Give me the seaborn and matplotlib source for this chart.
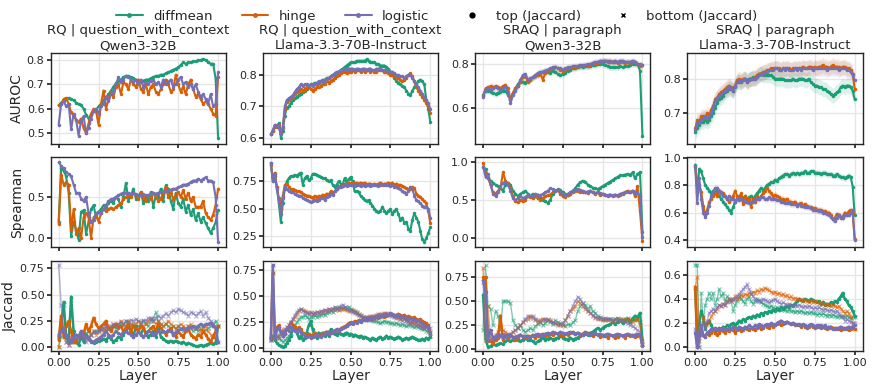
import numpy as np
import matplotlib
matplotlib.use("Agg")
import matplotlib.pyplot as plt
from matplotlib.lines import Line2D
import seaborn as sns

sns.set_theme(style="whitegrid", rc={
    "axes.edgecolor": "0.1", "axes.linewidth": 1.0,
    "grid.color": "0.9", "xtick.bottom": True, "ytick.left": True,
    "xtick.major.size": 3, "ytick.major.size": 3,
})
plt.rcParams["font.family"] = ["DejaVu Sans"]

methods = ["diffmean", "hinge", "logistic"]
colors = {"diffmean": "#1b9e77", "hinge": "#d95f02", "logistic": "#7570b3"}

col_titles = ["RQ | question_with_context\nQwen3-32B",
              "RQ | question_with_context\nLlama-3.3-70B-Instruct",
              "SRAQ | paragraph\nQwen3-32B",
              "SRAQ | paragraph\nLlama-3.3-70B-Instruct"]
row_labels = ["AUROC", "Spearman", "Jaccard"]

# ---------------- AUROC ----------------
rq_qwen_auroc_diffmean = [0.615, 0.625, 0.635, 0.64, 0.645, 0.64, 0.635, 0.625, 0.62, 0.615, 0.60, 0.575, 0.56, 0.575, 0.59, 0.595, 0.61, 0.62, 0.635, 0.645, 0.66, 0.675, 0.69, 0.705, 0.715, 0.72, 0.73, 0.735, 0.735, 0.73, 0.725, 0.72, 0.715, 0.71, 0.715, 0.72, 0.72, 0.725, 0.73, 0.735, 0.735, 0.74, 0.74, 0.745, 0.75, 0.755, 0.76, 0.765, 0.77, 0.78, 0.79, 0.785, 0.79, 0.79, 0.795, 0.795, 0.80, 0.80, 0.805, 0.80, 0.79, 0.785, 0.785, 0.725, 0.48]
rq_qwen_auroc_hinge = [0.615, 0.62, 0.64, 0.645, 0.62, 0.585, 0.57, 0.555, 0.545, 0.56, 0.52, 0.50, 0.54, 0.58, 0.60, 0.59, 0.535, 0.62, 0.675, 0.60, 0.64, 0.67, 0.65, 0.69, 0.70, 0.66, 0.71, 0.70, 0.68, 0.72, 0.70, 0.69, 0.72, 0.68, 0.67, 0.70, 0.66, 0.69, 0.70, 0.67, 0.66, 0.68, 0.70, 0.72, 0.70, 0.67, 0.68, 0.74, 0.70, 0.67, 0.69, 0.66, 0.70, 0.72, 0.68, 0.65, 0.66, 0.64, 0.62, 0.63, 0.62, 0.60, 0.58, 0.57, 0.73]
rq_qwen_auroc_logistic = [0.535, 0.62, 0.63, 0.61, 0.62, 0.515, 0.58, 0.555, 0.49, 0.55, 0.57, 0.50, 0.52, 0.56, 0.59, 0.60, 0.58, 0.61, 0.62, 0.65, 0.63, 0.66, 0.67, 0.70, 0.73, 0.71, 0.72, 0.735, 0.73, 0.72, 0.71, 0.72, 0.70, 0.72, 0.69, 0.71, 0.70, 0.715, 0.72, 0.70, 0.71, 0.69, 0.72, 0.70, 0.71, 0.72, 0.69, 0.70, 0.72, 0.73, 0.70, 0.71, 0.69, 0.70, 0.68, 0.70, 0.67, 0.65, 0.66, 0.64, 0.62, 0.66, 0.61, 0.62, 0.75]

rq_llama_auroc_diffmean = [0.61, 0.62, 0.64, 0.635, 0.645, 0.60, 0.62, 0.67, 0.695, 0.70, 0.71, 0.72, 0.725, 0.73, 0.735, 0.74, 0.745, 0.75, 0.755, 0.76, 0.77, 0.77, 0.775, 0.77, 0.775, 0.78, 0.78, 0.785, 0.79, 0.79, 0.795, 0.80, 0.80, 0.805, 0.81, 0.815, 0.82, 0.825, 0.83, 0.835, 0.84, 0.84, 0.84, 0.845, 0.845, 0.845, 0.845, 0.845, 0.85, 0.845, 0.84, 0.84, 0.84, 0.835, 0.835, 0.83, 0.83, 0.83, 0.825, 0.82, 0.81, 0.80, 0.79, 0.78, 0.775, 0.77, 0.765, 0.76, 0.75, 0.74, 0.735, 0.75, 0.76, 0.77, 0.78, 0.785, 0.78, 0.77, 0.72, 0.69, 0.65]
rq_llama_auroc_hinge = [0.61, 0.62, 0.635, 0.64, 0.64, 0.615, 0.63, 0.69, 0.715, 0.72, 0.725, 0.73, 0.74, 0.745, 0.75, 0.755, 0.75, 0.755, 0.76, 0.76, 0.755, 0.75, 0.755, 0.76, 0.76, 0.765, 0.77, 0.77, 0.78, 0.775, 0.78, 0.785, 0.79, 0.795, 0.80, 0.805, 0.81, 0.81, 0.805, 0.81, 0.81, 0.815, 0.81, 0.815, 0.815, 0.81, 0.815, 0.81, 0.815, 0.815, 0.81, 0.815, 0.81, 0.81, 0.815, 0.815, 0.815, 0.81, 0.81, 0.805, 0.80, 0.80, 0.795, 0.79, 0.79, 0.785, 0.78, 0.785, 0.79, 0.80, 0.805, 0.795, 0.78, 0.76, 0.75, 0.74, 0.73, 0.72, 0.71, 0.70, 0.68]
rq_llama_auroc_logistic = [0.61, 0.625, 0.64, 0.64, 0.635, 0.61, 0.635, 0.70, 0.72, 0.725, 0.73, 0.735, 0.745, 0.755, 0.76, 0.77, 0.765, 0.77, 0.77, 0.765, 0.77, 0.765, 0.77, 0.775, 0.78, 0.78, 0.785, 0.78, 0.79, 0.79, 0.795, 0.80, 0.805, 0.81, 0.81, 0.815, 0.815, 0.82, 0.815, 0.82, 0.82, 0.82, 0.815, 0.82, 0.82, 0.815, 0.82, 0.82, 0.815, 0.82, 0.82, 0.815, 0.815, 0.82, 0.82, 0.82, 0.815, 0.815, 0.815, 0.81, 0.81, 0.81, 0.805, 0.80, 0.80, 0.795, 0.795, 0.79, 0.795, 0.80, 0.80, 0.79, 0.78, 0.77, 0.76, 0.75, 0.74, 0.73, 0.72, 0.71, 0.69]

sraq_qwen_auroc_diffmean = [0.66, 0.68, 0.68, 0.675, 0.67, 0.665, 0.67, 0.675, 0.68, 0.68, 0.66, 0.645, 0.67, 0.69, 0.71, 0.72, 0.72, 0.715, 0.73, 0.73, 0.74, 0.745, 0.75, 0.76, 0.765, 0.77, 0.765, 0.76, 0.77, 0.765, 0.755, 0.75, 0.755, 0.76, 0.77, 0.775, 0.78, 0.78, 0.785, 0.79, 0.785, 0.79, 0.79, 0.79, 0.795, 0.795, 0.80, 0.80, 0.80, 0.795, 0.79, 0.785, 0.785, 0.785, 0.785, 0.79, 0.785, 0.79, 0.79, 0.795, 0.80, 0.80, 0.80, 0.77, 0.475]
sraq_qwen_auroc_hinge = [0.655, 0.69, 0.695, 0.70, 0.695, 0.70, 0.695, 0.69, 0.70, 0.705, 0.69, 0.64, 0.67, 0.69, 0.70, 0.72, 0.74, 0.745, 0.72, 0.73, 0.74, 0.745, 0.75, 0.755, 0.73, 0.76, 0.77, 0.775, 0.78, 0.785, 0.78, 0.775, 0.77, 0.775, 0.78, 0.78, 0.785, 0.785, 0.79, 0.79, 0.79, 0.795, 0.79, 0.795, 0.80, 0.80, 0.805, 0.81, 0.81, 0.815, 0.81, 0.815, 0.81, 0.81, 0.805, 0.81, 0.81, 0.805, 0.81, 0.805, 0.81, 0.81, 0.80, 0.79, 0.795]
sraq_qwen_auroc_logistic = [0.65, 0.685, 0.69, 0.685, 0.69, 0.695, 0.69, 0.685, 0.69, 0.70, 0.675, 0.625, 0.66, 0.68, 0.70, 0.73, 0.75, 0.755, 0.73, 0.735, 0.74, 0.75, 0.76, 0.765, 0.765, 0.77, 0.775, 0.78, 0.785, 0.785, 0.78, 0.78, 0.775, 0.78, 0.785, 0.785, 0.79, 0.79, 0.79, 0.795, 0.795, 0.795, 0.80, 0.80, 0.805, 0.81, 0.81, 0.815, 0.815, 0.815, 0.815, 0.81, 0.81, 0.815, 0.81, 0.815, 0.815, 0.81, 0.81, 0.81, 0.815, 0.81, 0.80, 0.80, 0.795]

sraq_llama_auroc_diffmean = [0.645, 0.655, 0.665, 0.675, 0.675, 0.68, 0.675, 0.68, 0.69, 0.70, 0.715, 0.73, 0.74, 0.745, 0.75, 0.76, 0.765, 0.77, 0.77, 0.765, 0.775, 0.79, 0.79, 0.79, 0.795, 0.80, 0.795, 0.80, 0.80, 0.805, 0.80, 0.805, 0.81, 0.815, 0.81, 0.81, 0.81, 0.81, 0.81, 0.805, 0.80, 0.80, 0.80, 0.80, 0.80, 0.795, 0.795, 0.795, 0.795, 0.80, 0.795, 0.795, 0.80, 0.80, 0.80, 0.795, 0.795, 0.80, 0.79, 0.785, 0.78, 0.78, 0.775, 0.775, 0.77, 0.77, 0.765, 0.76, 0.755, 0.75, 0.755, 0.76, 0.765, 0.775, 0.78, 0.775, 0.78, 0.78, 0.775, 0.765, 0.74]
sraq_llama_auroc_hinge = [0.655, 0.68, 0.675, 0.69, 0.69, 0.685, 0.70, 0.69, 0.71, 0.72, 0.74, 0.745, 0.755, 0.76, 0.765, 0.77, 0.775, 0.78, 0.775, 0.77, 0.78, 0.795, 0.80, 0.795, 0.80, 0.80, 0.79, 0.795, 0.80, 0.80, 0.805, 0.81, 0.815, 0.815, 0.82, 0.82, 0.825, 0.825, 0.83, 0.83, 0.83, 0.83, 0.83, 0.825, 0.83, 0.83, 0.83, 0.83, 0.825, 0.83, 0.83, 0.83, 0.83, 0.83, 0.835, 0.83, 0.83, 0.835, 0.835, 0.83, 0.835, 0.83, 0.835, 0.835, 0.84, 0.835, 0.835, 0.83, 0.835, 0.84, 0.835, 0.835, 0.835, 0.83, 0.835, 0.835, 0.83, 0.83, 0.825, 0.815, 0.77]
sraq_llama_auroc_logistic = [0.65, 0.67, 0.675, 0.68, 0.685, 0.69, 0.685, 0.69, 0.70, 0.72, 0.735, 0.745, 0.75, 0.755, 0.76, 0.765, 0.77, 0.775, 0.77, 0.765, 0.78, 0.79, 0.795, 0.79, 0.795, 0.80, 0.79, 0.795, 0.80, 0.80, 0.80, 0.805, 0.81, 0.815, 0.815, 0.82, 0.82, 0.825, 0.825, 0.825, 0.83, 0.83, 0.825, 0.825, 0.83, 0.825, 0.83, 0.825, 0.825, 0.825, 0.83, 0.825, 0.83, 0.825, 0.83, 0.83, 0.83, 0.83, 0.83, 0.825, 0.83, 0.83, 0.83, 0.83, 0.83, 0.83, 0.825, 0.83, 0.83, 0.83, 0.83, 0.83, 0.825, 0.83, 0.83, 0.83, 0.825, 0.825, 0.82, 0.81, 0.795]

# ---------------- Spearman ----------------
rq_qwen_spearman_diffmean = [0.2, 0.85, 0.82, 0.75, 0.55, 0.02, 0.2, 0.1, -0.02, 0.32, 0.34, 0.05, 0.2, 0.35, 0.4, 0.25, 0.32, 0.35, 0.4, 0.38, 0.42, 0.45, 0.43, 0.5, 0.47, 0.38, 0.5, 0.67, 0.45, 0.52, 0.6, 0.48, 0.5, 0.56, 0.42, 0.50, 0.45, 0.56, 0.38, 0.52, 0.50, 0.60, 0.45, 0.64, 0.6, 0.45, 0.35, 0.55, 0.42, 0.38, 0.48, 0.32, 0.40, 0.28, 0.35, 0.22, 0.30, 0.20, 0.25, 0.18, 0.12, 0.06, 0.12, 0.19, 0.34]
rq_qwen_spearman_hinge = [0.17, 0.77, 0.65, 0.68, 0.65, 0.1, 0.35, 0.05, 0.12, 0.0, 0.25, 0.3, 0.25, 0.0, 0.25, 0.28, 0.2, 0.3, 0.35, 0.33, 0.35, 0.37, 0.35, 0.38, 0.40, 0.42, 0.47, 0.50, 0.52, 0.50, 0.55, 0.52, 0.47, 0.55, 0.50, 0.45, 0.52, 0.47, 0.55, 0.50, 0.45, 0.48, 0.55, 0.62, 0.50, 0.55, 0.48, 0.52, 0.56, 0.50, 0.58, 0.48, 0.55, 0.45, 0.50, 0.38, 0.38, 0.38, 0.45, 0.30, 0.25, 0.22, 0.28, 0.40, 0.60]
rq_qwen_spearman_logistic = [0.92, 0.88, 0.85, 0.80, 0.78, 0.75, 0.65, 0.55, 0.55, 0.48, 0.45, 0.50, 0.30, 0.20, 0.22, 0.30, 0.32, 0.30, 0.35, 0.40, 0.45, 0.47, 0.48, 0.50, 0.52, 0.54, 0.55, 0.55, 0.55, 0.54, 0.55, 0.53, 0.52, 0.52, 0.53, 0.52, 0.52, 0.53, 0.55, 0.54, 0.55, 0.56, 0.56, 0.57, 0.58, 0.59, 0.60, 0.60, 0.62, 0.63, 0.65, 0.65, 0.66, 0.68, 0.70, 0.70, 0.72, 0.70, 0.72, 0.74, 0.70, 0.70, 0.68, 0.50, -0.05]

rq_llama_spearman_diffmean = [0.92, 0.75, 0.80, 0.70, 0.55, 0.38, 0.55, 0.68, 0.75, 0.78, 0.80, 0.80, 0.81, 0.80, 0.82, 0.83, 0.72, 0.78, 0.80, 0.76, 0.78, 0.82, 0.82, 0.81, 0.80, 0.79, 0.78, 0.78, 0.76, 0.75, 0.76, 0.72, 0.70, 0.72, 0.75, 0.73, 0.72, 0.78, 0.74, 0.77, 0.79, 0.75, 0.66, 0.66, 0.65, 0.62, 0.60, 0.58, 0.57, 0.58, 0.55, 0.53, 0.50, 0.48, 0.47, 0.48, 0.52, 0.48, 0.46, 0.48, 0.50, 0.45, 0.48, 0.50, 0.45, 0.40, 0.42, 0.37, 0.38, 0.32, 0.30, 0.40, 0.46, 0.42, 0.38, 0.30, 0.22, 0.20, 0.23, 0.28, 0.33]
rq_llama_spearman_hinge = [0.90, 0.78, 0.83, 0.70, 0.60, 0.50, 0.62, 0.72, 0.73, 0.70, 0.68, 0.68, 0.67, 0.66, 0.66, 0.65, 0.64, 0.63, 0.62, 0.62, 0.61, 0.60, 0.62, 0.60, 0.62, 0.61, 0.63, 0.62, 0.64, 0.63, 0.66, 0.64, 0.66, 0.68, 0.70, 0.71, 0.72, 0.73, 0.72, 0.74, 0.73, 0.74, 0.73, 0.74, 0.73, 0.74, 0.73, 0.74, 0.72, 0.73, 0.73, 0.72, 0.73, 0.72, 0.73, 0.74, 0.72, 0.73, 0.73, 0.74, 0.73, 0.74, 0.72, 0.73, 0.72, 0.72, 0.71, 0.70, 0.69, 0.68, 0.68, 0.70, 0.69, 0.64, 0.62, 0.61, 0.59, 0.57, 0.55, 0.48, 0.37]
rq_llama_spearman_logistic = [0.92, 0.75, 0.82, 0.68, 0.58, 0.45, 0.60, 0.70, 0.68, 0.66, 0.65, 0.65, 0.64, 0.63, 0.62, 0.62, 0.60, 0.59, 0.58, 0.57, 0.56, 0.57, 0.58, 0.57, 0.58, 0.60, 0.60, 0.58, 0.61, 0.62, 0.64, 0.63, 0.66, 0.68, 0.70, 0.70, 0.71, 0.72, 0.71, 0.72, 0.72, 0.72, 0.71, 0.72, 0.72, 0.71, 0.72, 0.71, 0.72, 0.72, 0.71, 0.72, 0.72, 0.72, 0.71, 0.72, 0.73, 0.72, 0.72, 0.72, 0.71, 0.72, 0.70, 0.70, 0.69, 0.68, 0.66, 0.65, 0.64, 0.66, 0.70, 0.68, 0.62, 0.58, 0.57, 0.55, 0.53, 0.52, 0.52, 0.50, 0.42]

sraq_qwen_spearman_diffmean = [0.93, 0.90, 0.80, 0.75, 0.72, 0.70, 0.68, 0.65, 0.62, 0.70, 0.72, 0.70, 0.62, 0.58, 0.55, 0.58, 0.60, 0.62, 0.58, 0.55, 0.58, 0.55, 0.52, 0.54, 0.50, 0.48, 0.46, 0.50, 0.58, 0.62, 0.64, 0.63, 0.60, 0.58, 0.56, 0.58, 0.62, 0.65, 0.70, 0.73, 0.75, 0.74, 0.70, 0.68, 0.66, 0.65, 0.64, 0.66, 0.68, 0.70, 0.72, 0.74, 0.76, 0.78, 0.80, 0.82, 0.82, 0.83, 0.84, 0.82, 0.86, 0.78, 0.84, 0.86, 0.08]
sraq_qwen_spearman_hinge = [0.98, 0.85, 0.78, 0.70, 0.60, 0.58, 0.62, 0.66, 0.86, 0.75, 0.72, 0.65, 0.55, 0.48, 0.47, 0.50, 0.48, 0.50, 0.55, 0.54, 0.52, 0.55, 0.53, 0.50, 0.52, 0.55, 0.56, 0.57, 0.60, 0.62, 0.63, 0.58, 0.55, 0.54, 0.56, 0.58, 0.60, 0.62, 0.62, 0.61, 0.60, 0.60, 0.59, 0.62, 0.60, 0.58, 0.60, 0.56, 0.58, 0.57, 0.55, 0.57, 0.55, 0.56, 0.55, 0.57, 0.58, 0.60, 0.62, 0.60, 0.62, 0.55, 0.68, 0.35, -0.04]
sraq_qwen_spearman_logistic = [0.93, 0.80, 0.84, 0.70, 0.58, 0.55, 0.60, 0.68, 0.72, 0.74, 0.70, 0.62, 0.52, 0.50, 0.52, 0.55, 0.52, 0.54, 0.56, 0.55, 0.55, 0.58, 0.57, 0.56, 0.58, 0.60, 0.62, 0.65, 0.64, 0.62, 0.63, 0.60, 0.58, 0.57, 0.58, 0.60, 0.62, 0.63, 0.64, 0.63, 0.62, 0.60, 0.61, 0.62, 0.60, 0.59, 0.60, 0.59, 0.58, 0.57, 0.56, 0.57, 0.56, 0.57, 0.56, 0.58, 0.59, 0.60, 0.61, 0.60, 0.62, 0.58, 0.60, 0.55, 0.02]

sraq_llama_spearman_diffmean = [0.95, 0.75, 0.92, 0.90, 0.85, 0.80, 0.78, 0.76, 0.74, 0.76, 0.75, 0.76, 0.72, 0.70, 0.68, 0.66, 0.64, 0.62, 0.60, 0.64, 0.68, 0.70, 0.72, 0.72, 0.70, 0.72, 0.70, 0.71, 0.72, 0.70, 0.72, 0.74, 0.76, 0.78, 0.76, 0.78, 0.80, 0.81, 0.82, 0.82, 0.84, 0.83, 0.85, 0.86, 0.87, 0.88, 0.88, 0.87, 0.88, 0.89, 0.88, 0.89, 0.88, 0.89, 0.89, 0.90, 0.89, 0.89, 0.90, 0.90, 0.89, 0.89, 0.89, 0.88, 0.89, 0.89, 0.88, 0.88, 0.88, 0.87, 0.87, 0.88, 0.87, 0.86, 0.86, 0.85, 0.86, 0.87, 0.86, 0.79, 0.58]
sraq_llama_spearman_hinge = [0.94, 0.82, 0.80, 0.75, 0.65, 0.58, 0.62, 0.68, 0.70, 0.72, 0.74, 0.72, 0.76, 0.75, 0.74, 0.72, 0.70, 0.68, 0.70, 0.72, 0.76, 0.72, 0.70, 0.74, 0.66, 0.72, 0.68, 0.70, 0.64, 0.70, 0.68, 0.72, 0.70, 0.72, 0.74, 0.76, 0.78, 0.76, 0.74, 0.72, 0.73, 0.72, 0.71, 0.70, 0.70, 0.69, 0.70, 0.68, 0.68, 0.67, 0.68, 0.66, 0.66, 0.67, 0.65, 0.66, 0.65, 0.64, 0.64, 0.63, 0.63, 0.62, 0.62, 0.62, 0.61, 0.61, 0.60, 0.60, 0.58, 0.55, 0.56, 0.59, 0.58, 0.56, 0.57, 0.60, 0.58, 0.61, 0.62, 0.60, 0.41]
sraq_llama_spearman_logistic = [0.93, 0.67, 0.85, 0.70, 0.60, 0.57, 0.60, 0.65, 0.72, 0.75, 0.78, 0.78, 0.76, 0.74, 0.72, 0.72, 0.70, 0.72, 0.70, 0.70, 0.68, 0.70, 0.69, 0.70, 0.69, 0.68, 0.68, 0.67, 0.68, 0.68, 0.69, 0.70, 0.70, 0.71, 0.71, 0.70, 0.70, 0.71, 0.70, 0.70, 0.70, 0.69, 0.69, 0.68, 0.68, 0.67, 0.67, 0.67, 0.66, 0.66, 0.66, 0.65, 0.66, 0.65, 0.65, 0.64, 0.64, 0.64, 0.63, 0.62, 0.62, 0.62, 0.61, 0.61, 0.60, 0.60, 0.59, 0.58, 0.57, 0.55, 0.54, 0.56, 0.58, 0.57, 0.56, 0.58, 0.59, 0.58, 0.60, 0.62, 0.40]

# ---------------- Jaccard (top = thick, bottom = thin) ----------------
rq_qwen_jac_top_diffmean = [0.10, 0.20, 0.43, 0.10, 0.05, 0.48, 0.15, 0.05, 0.02, 0.10, 0.05, 0.12, 0.08, 0.05, 0.04, 0.05, 0.06, 0.07, 0.08, 0.06, 0.10, 0.08, 0.05, 0.07, 0.10, 0.08, 0.12, 0.15, 0.20, 0.14, 0.10, 0.20, 0.15, 0.12, 0.18, 0.14, 0.10, 0.12, 0.15, 0.10, 0.20, 0.10, 0.08, 0.06, 0.05, 0.06, 0.05, 0.06, 0.05, 0.04, 0.05, 0.03, 0.04, 0.03, 0.02, 0.01, 0.01, 0.02, 0.01, 0.02, 0.03, 0.04, 0.03, 0.04, 0.20]
rq_qwen_jac_bot_diffmean = [0.0, 0.10, 0.40, 0.10, 0.05, 0.45, 0.10, 0.05, 0.10, 0.12, 0.15, 0.13, 0.15, 0.12, 0.14, 0.15, 0.16, 0.17, 0.18, 0.15, 0.17, 0.18, 0.20, 0.18, 0.20, 0.22, 0.20, 0.25, 0.22, 0.20, 0.22, 0.18, 0.20, 0.22, 0.25, 0.22, 0.20, 0.25, 0.28, 0.33, 0.25, 0.22, 0.20, 0.22, 0.20, 0.18, 0.20, 0.17, 0.20, 0.18, 0.15, 0.17, 0.20, 0.18, 0.15, 0.17, 0.15, 0.18, 0.15, 0.16, 0.18, 0.20, 0.22, 0.25, 0.20]
rq_qwen_jac_top_hinge = [0.07, 0.30, 0.10, 0.20, 0.25, 0.15, 0.05, 0.05, 0.10, 0.15, 0.12, 0.22, 0.15, 0.20, 0.28, 0.22, 0.18, 0.20, 0.22, 0.25, 0.18, 0.15, 0.20, 0.22, 0.18, 0.20, 0.15, 0.18, 0.22, 0.15, 0.20, 0.18, 0.15, 0.20, 0.18, 0.12, 0.15, 0.18, 0.20, 0.15, 0.22, 0.18, 0.15, 0.12, 0.15, 0.18, 0.12, 0.10, 0.15, 0.12, 0.10, 0.15, 0.18, 0.12, 0.10, 0.08, 0.12, 0.10, 0.15, 0.12, 0.08, 0.05, 0.10, 0.15, 0.20]
rq_qwen_jac_bot_hinge = [0.0, 0.25, 0.15, 0.05, 0.02, 0.10, 0.05, 0.08, 0.10, 0.12, 0.10, 0.08, 0.10, 0.12, 0.15, 0.12, 0.14, 0.16, 0.15, 0.18, 0.20, 0.18, 0.22, 0.20, 0.22, 0.25, 0.22, 0.20, 0.25, 0.22, 0.20, 0.22, 0.25, 0.22, 0.20, 0.22, 0.25, 0.28, 0.25, 0.22, 0.25, 0.22, 0.20, 0.22, 0.25, 0.22, 0.20, 0.18, 0.20, 0.22, 0.20, 0.18, 0.20, 0.22, 0.18, 0.20, 0.18, 0.15, 0.18, 0.20, 0.15, 0.12, 0.10, 0.15, 0.20]
rq_qwen_jac_top_logistic = [0.12, 0.15, 0.18, 0.12, 0.08, 0.05, 0.10, 0.12, 0.10, 0.15, 0.12, 0.10, 0.08, 0.06, 0.05, 0.07, 0.08, 0.10, 0.12, 0.15, 0.12, 0.10, 0.12, 0.15, 0.13, 0.12, 0.14, 0.15, 0.13, 0.12, 0.10, 0.12, 0.14, 0.12, 0.10, 0.12, 0.15, 0.14, 0.12, 0.13, 0.15, 0.14, 0.15, 0.14, 0.16, 0.15, 0.12, 0.14, 0.16, 0.17, 0.18, 0.16, 0.18, 0.19, 0.20, 0.18, 0.20, 0.22, 0.20, 0.22, 0.22, 0.23, 0.20, 0.18, 0.05]
rq_qwen_jac_bot_logistic = [0.78, 0.40, 0.15, 0.05, 0.02, 0.05, 0.10, 0.08, 0.10, 0.12, 0.08, 0.05, 0.10, 0.12, 0.15, 0.14, 0.15, 0.17, 0.18, 0.20, 0.18, 0.20, 0.22, 0.20, 0.22, 0.24, 0.22, 0.25, 0.24, 0.26, 0.25, 0.27, 0.25, 0.24, 0.26, 0.25, 0.28, 0.27, 0.25, 0.28, 0.30, 0.28, 0.30, 0.32, 0.30, 0.33, 0.35, 0.33, 0.36, 0.35, 0.33, 0.32, 0.30, 0.33, 0.32, 0.30, 0.32, 0.34, 0.30, 0.33, 0.28, 0.25, 0.22, 0.20, 0.05]

rq_llama_jac_top_diffmean = [0.10, 0.12, 0.08, 0.05, 0.03, 0.02, 0.01, 0.02, 0.05, 0.08, 0.12, 0.18, 0.20, 0.15, 0.10, 0.12, 0.08, 0.10, 0.15, 0.22, 0.26, 0.18, 0.12, 0.10, 0.15, 0.12, 0.15, 0.12, 0.14, 0.12, 0.18, 0.15, 0.14, 0.13, 0.15, 0.14, 0.13, 0.14, 0.15, 0.13, 0.14, 0.12, 0.13, 0.12, 0.11, 0.12, 0.10, 0.11, 0.10, 0.09, 0.08, 0.10, 0.09, 0.08, 0.10, 0.11, 0.09, 0.10, 0.12, 0.10, 0.11, 0.10, 0.09, 0.10, 0.11, 0.10, 0.08, 0.09, 0.10, 0.09, 0.10, 0.11, 0.10, 0.09, 0.08, 0.08, 0.09, 0.08, 0.10, 0.09, 0.11]
rq_llama_jac_bot_diffmean = [0.08, 0.10, 0.15, 0.20, 0.10, 0.08, 0.06, 0.08, 0.10, 0.12, 0.15, 0.20, 0.22, 0.25, 0.28, 0.30, 0.30, 0.32, 0.30, 0.28, 0.30, 0.30, 0.32, 0.30, 0.31, 0.32, 0.33, 0.32, 0.34, 0.35, 0.36, 0.35, 0.37, 0.38, 0.40, 0.39, 0.38, 0.40, 0.39, 0.40, 0.38, 0.37, 0.36, 0.35, 0.33, 0.32, 0.30, 0.29, 0.28, 0.27, 0.28, 0.27, 0.26, 0.26, 0.25, 0.24, 0.25, 0.26, 0.25, 0.25, 0.24, 0.24, 0.23, 0.24, 0.23, 0.22, 0.23, 0.22, 0.21, 0.22, 0.22, 0.21, 0.20, 0.21, 0.20, 0.19, 0.18, 0.18, 0.17, 0.16, 0.12]
rq_llama_jac_top_hinge = [0.09, 0.72, 0.12, 0.20, 0.22, 0.15, 0.12, 0.14, 0.18, 0.20, 0.25, 0.22, 0.20, 0.18, 0.20, 0.18, 0.15, 0.14, 0.12, 0.14, 0.12, 0.13, 0.15, 0.14, 0.12, 0.13, 0.14, 0.15, 0.16, 0.14, 0.15, 0.16, 0.17, 0.18, 0.17, 0.19, 0.20, 0.21, 0.22, 0.24, 0.25, 0.24, 0.26, 0.25, 0.27, 0.26, 0.28, 0.27, 0.29, 0.28, 0.28, 0.27, 0.29, 0.30, 0.29, 0.30, 0.31, 0.30, 0.31, 0.32, 0.33, 0.32, 0.31, 0.32, 0.33, 0.32, 0.31, 0.32, 0.30, 0.31, 0.30, 0.29, 0.30, 0.28, 0.27, 0.28, 0.26, 0.25, 0.24, 0.22, 0.16]
rq_llama_jac_bot_hinge = [0.09, 0.72, 0.10, 0.12, 0.10, 0.15, 0.18, 0.16, 0.20, 0.22, 0.25, 0.28, 0.30, 0.33, 0.36, 0.38, 0.37, 0.36, 0.35, 0.34, 0.35, 0.33, 0.34, 0.35, 0.34, 0.35, 0.36, 0.37, 0.36, 0.38, 0.37, 0.38, 0.39, 0.38, 0.37, 0.38, 0.39, 0.38, 0.37, 0.36, 0.37, 0.36, 0.35, 0.34, 0.32, 0.31, 0.30, 0.30, 0.29, 0.30, 0.31, 0.30, 0.31, 0.32, 0.33, 0.32, 0.33, 0.34, 0.33, 0.32, 0.33, 0.32, 0.31, 0.30, 0.29, 0.28, 0.29, 0.28, 0.27, 0.26, 0.25, 0.24, 0.25, 0.24, 0.23, 0.22, 0.21, 0.20, 0.20, 0.18, 0.15]
rq_llama_jac_top_logistic = [0.08, 0.80, 0.10, 0.18, 0.20, 0.16, 0.12, 0.15, 0.18, 0.17, 0.20, 0.18, 0.17, 0.16, 0.18, 0.15, 0.14, 0.12, 0.11, 0.12, 0.10, 0.11, 0.12, 0.13, 0.12, 0.11, 0.13, 0.14, 0.15, 0.16, 0.15, 0.16, 0.17, 0.18, 0.17, 0.18, 0.19, 0.20, 0.21, 0.23, 0.24, 0.23, 0.25, 0.24, 0.26, 0.25, 0.27, 0.28, 0.27, 0.28, 0.29, 0.28, 0.29, 0.30, 0.31, 0.30, 0.31, 0.32, 0.33, 0.32, 0.34, 0.33, 0.32, 0.31, 0.32, 0.30, 0.31, 0.30, 0.29, 0.28, 0.29, 0.27, 0.28, 0.26, 0.27, 0.25, 0.24, 0.22, 0.21, 0.20, 0.14]
rq_llama_jac_bot_logistic = [0.08, 0.80, 0.12, 0.10, 0.12, 0.14, 0.16, 0.18, 0.20, 0.22, 0.25, 0.28, 0.32, 0.35, 0.37, 0.38, 0.36, 0.35, 0.34, 0.33, 0.34, 0.33, 0.34, 0.35, 0.34, 0.36, 0.35, 0.37, 0.36, 0.38, 0.37, 0.38, 0.40, 0.39, 0.38, 0.41, 0.42, 0.40, 0.38, 0.37, 0.36, 0.35, 0.34, 0.33, 0.32, 0.31, 0.30, 0.29, 0.30, 0.29, 0.30, 0.31, 0.30, 0.31, 0.32, 0.33, 0.32, 0.33, 0.34, 0.33, 0.32, 0.31, 0.30, 0.29, 0.30, 0.28, 0.27, 0.28, 0.26, 0.25, 0.24, 0.25, 0.23, 0.22, 0.22, 0.21, 0.20, 0.19, 0.20, 0.22, 0.19]

sraq_qwen_jac_top_diffmean = [0.57, 0.10, 0.02, 0.03, 0.05, 0.04, 0.05, 0.06, 0.05, 0.08, 0.10, 0.08, 0.10, 0.12, 0.10, 0.08, 0.10, 0.12, 0.09, 0.10, 0.08, 0.06, 0.08, 0.10, 0.12, 0.10, 0.11, 0.12, 0.10, 0.11, 0.12, 0.14, 0.12, 0.11, 0.10, 0.12, 0.10, 0.11, 0.12, 0.14, 0.15, 0.16, 0.15, 0.17, 0.18, 0.20, 0.22, 0.20, 0.22, 0.24, 0.25, 0.26, 0.28, 0.26, 0.28, 0.30, 0.27, 0.29, 0.31, 0.28, 0.32, 0.35, 0.33, 0.38, 0.10]
sraq_qwen_jac_bot_diffmean = [0.20, 0.88, 0.45, 0.42, 0.25, 0.40, 0.35, 0.20, 0.50, 0.50, 0.50, 0.48, 0.30, 0.25, 0.22, 0.25, 0.20, 0.18, 0.20, 0.22, 0.20, 0.24, 0.26, 0.28, 0.25, 0.27, 0.30, 0.28, 0.26, 0.30, 0.28, 0.27, 0.25, 0.24, 0.26, 0.25, 0.28, 0.30, 0.40, 0.45, 0.48, 0.46, 0.42, 0.45, 0.40, 0.38, 0.35, 0.33, 0.32, 0.30, 0.32, 0.31, 0.30, 0.32, 0.33, 0.31, 0.30, 0.32, 0.33, 0.30, 0.32, 0.31, 0.30, 0.28, 0.05]
sraq_qwen_jac_top_hinge = [0.75, 0.75, 0.08, 0.08, 0.06, 0.10, 0.12, 0.35, 0.10, 0.15, 0.12, 0.15, 0.13, 0.10, 0.12, 0.15, 0.13, 0.12, 0.14, 0.13, 0.15, 0.12, 0.14, 0.15, 0.16, 0.14, 0.15, 0.16, 0.15, 0.17, 0.16, 0.15, 0.14, 0.16, 0.15, 0.17, 0.18, 0.16, 0.17, 0.15, 0.16, 0.18, 0.17, 0.15, 0.14, 0.16, 0.15, 0.13, 0.15, 0.14, 0.12, 0.15, 0.14, 0.12, 0.13, 0.15, 0.14, 0.12, 0.15, 0.14, 0.15, 0.13, 0.14, 0.15, 0.05]
sraq_qwen_jac_bot_hinge = [0.85, 0.10, 0.45, 0.10, 0.12, 0.15, 0.18, 0.15, 0.20, 0.18, 0.16, 0.15, 0.18, 0.20, 0.22, 0.25, 0.28, 0.30, 0.32, 0.35, 0.33, 0.30, 0.28, 0.30, 0.32, 0.30, 0.31, 0.30, 0.28, 0.27, 0.25, 0.26, 0.25, 0.30, 0.35, 0.40, 0.42, 0.45, 0.50, 0.48, 0.45, 0.42, 0.40, 0.38, 0.35, 0.33, 0.32, 0.31, 0.30, 0.32, 0.30, 0.31, 0.29, 0.30, 0.32, 0.30, 0.31, 0.30, 0.32, 0.30, 0.28, 0.30, 0.32, 0.25, 0.05]
sraq_qwen_jac_top_logistic = [0.72, 0.60, 0.10, 0.20, 0.12, 0.13, 0.15, 0.14, 0.12, 0.13, 0.15, 0.14, 0.12, 0.13, 0.14, 0.15, 0.13, 0.14, 0.12, 0.13, 0.14, 0.15, 0.16, 0.14, 0.15, 0.16, 0.17, 0.16, 0.18, 0.17, 0.16, 0.18, 0.17, 0.16, 0.17, 0.18, 0.17, 0.16, 0.17, 0.16, 0.15, 0.17, 0.16, 0.15, 0.16, 0.17, 0.15, 0.16, 0.14, 0.15, 0.16, 0.15, 0.14, 0.15, 0.16, 0.15, 0.14, 0.15, 0.16, 0.15, 0.14, 0.15, 0.16, 0.15, 0.03]
sraq_qwen_jac_bot_logistic = [0.70, 0.10, 0.20, 0.12, 0.10, 0.12, 0.15, 0.14, 0.16, 0.15, 0.14, 0.16, 0.18, 0.20, 0.22, 0.25, 0.28, 0.32, 0.35, 0.33, 0.35, 0.32, 0.30, 0.28, 0.30, 0.32, 0.30, 0.29, 0.28, 0.27, 0.26, 0.25, 0.27, 0.30, 0.35, 0.40, 0.45, 0.50, 0.55, 0.52, 0.48, 0.44, 0.40, 0.38, 0.36, 0.34, 0.33, 0.34, 0.32, 0.33, 0.31, 0.32, 0.30, 0.31, 0.30, 0.29, 0.30, 0.28, 0.27, 0.25, 0.24, 0.22, 0.20, 0.18, 0.05]

sraq_llama_jac_top_diffmean = [0.48, 0.10, 0.20, 0.30, 0.25, 0.15, 0.20, 0.22, 0.18, 0.15, 0.12, 0.14, 0.16, 0.15, 0.17, 0.16, 0.18, 0.17, 0.19, 0.20, 0.18, 0.20, 0.22, 0.21, 0.23, 0.22, 0.24, 0.25, 0.24, 0.26, 0.25, 0.27, 0.26, 0.28, 0.27, 0.29, 0.28, 0.30, 0.29, 0.31, 0.30, 0.32, 0.31, 0.33, 0.32, 0.33, 0.34, 0.33, 0.35, 0.34, 0.36, 0.38, 0.40, 0.39, 0.38, 0.40, 0.39, 0.38, 0.40, 0.39, 0.38, 0.37, 0.38, 0.36, 0.37, 0.35, 0.36, 0.35, 0.37, 0.36, 0.38, 0.37, 0.40, 0.42, 0.45, 0.40, 0.38, 0.35, 0.33, 0.30, 0.26]
sraq_llama_jac_bot_diffmean = [0.68, 0.68, 0.0, 0.45, 0.20, 0.35, 0.40, 0.45, 0.40, 0.45, 0.35, 0.40, 0.48, 0.42, 0.45, 0.38, 0.42, 0.40, 0.38, 0.30, 0.35, 0.38, 0.42, 0.40, 0.38, 0.36, 0.40, 0.42, 0.38, 0.36, 0.38, 0.40, 0.38, 0.37, 0.36, 0.35, 0.34, 0.33, 0.34, 0.33, 0.32, 0.33, 0.32, 0.31, 0.32, 0.31, 0.30, 0.31, 0.30, 0.30, 0.29, 0.30, 0.29, 0.30, 0.29, 0.28, 0.29, 0.28, 0.29, 0.28, 0.28, 0.27, 0.28, 0.27, 0.28, 0.27, 0.26, 0.27, 0.26, 0.27, 0.26, 0.25, 0.26, 0.25, 0.26, 0.25, 0.26, 0.25, 0.24, 0.25, 0.25]
sraq_llama_jac_top_hinge = [0.50, 0.0, 0.10, 0.15, 0.10, 0.08, 0.12, 0.10, 0.12, 0.14, 0.12, 0.10, 0.12, 0.14, 0.13, 0.12, 0.14, 0.13, 0.15, 0.14, 0.12, 0.14, 0.15, 0.13, 0.14, 0.16, 0.15, 0.14, 0.16, 0.15, 0.14, 0.16, 0.17, 0.15, 0.16, 0.18, 0.17, 0.16, 0.18, 0.17, 0.18, 0.19, 0.20, 0.18, 0.19, 0.20, 0.21, 0.20, 0.19, 0.20, 0.18, 0.19, 0.18, 0.17, 0.18, 0.17, 0.16, 0.17, 0.18, 0.17, 0.16, 0.17, 0.18, 0.16, 0.17, 0.16, 0.15, 0.16, 0.17, 0.16, 0.15, 0.16, 0.15, 0.14, 0.15, 0.16, 0.15, 0.14, 0.15, 0.16, 0.15]
sraq_llama_jac_bot_hinge = [0.50, 0.58, 0.05, 0.10, 0.25, 0.20, 0.18, 0.22, 0.25, 0.28, 0.30, 0.32, 0.35, 0.34, 0.36, 0.35, 0.38, 0.40, 0.38, 0.40, 0.42, 0.40, 0.41, 0.43, 0.42, 0.44, 0.43, 0.45, 0.44, 0.46, 0.45, 0.47, 0.46, 0.48, 0.47, 0.49, 0.48, 0.47, 0.46, 0.45, 0.46, 0.44, 0.45, 0.43, 0.44, 0.42, 0.43, 0.41, 0.42, 0.40, 0.41, 0.40, 0.39, 0.40, 0.38, 0.39, 0.38, 0.37, 0.38, 0.37, 0.38, 0.37, 0.36, 0.37, 0.36, 0.35, 0.36, 0.35, 0.34, 0.35, 0.34, 0.33, 0.34, 0.32, 0.30, 0.28, 0.30, 0.28, 0.25, 0.20, 0.15]
sraq_llama_jac_bot_logistic = [0.15, 0.02, 0.0, 0.10, 0.20, 0.15, 0.22, 0.28, 0.30, 0.32, 0.30, 0.33, 0.35, 0.34, 0.36, 0.35, 0.37, 0.38, 0.40, 0.39, 0.40, 0.42, 0.44, 0.46, 0.48, 0.50, 0.52, 0.48, 0.45, 0.42, 0.40, 0.38, 0.39, 0.38, 0.40, 0.39, 0.38, 0.37, 0.38, 0.39, 0.40, 0.38, 0.37, 0.36, 0.37, 0.36, 0.35, 0.36, 0.35, 0.34, 0.35, 0.34, 0.35, 0.34, 0.33, 0.34, 0.33, 0.34, 0.33, 0.32, 0.33, 0.32, 0.33, 0.32, 0.31, 0.32, 0.31, 0.30, 0.31, 0.30, 0.29, 0.30, 0.28, 0.26, 0.25, 0.22, 0.23, 0.22, 0.21, 0.20, 0.20]
sraq_llama_jac_top_logistic = [0.12, 0.0, 0.10, 0.18, 0.10, 0.08, 0.12, 0.13, 0.15, 0.14, 0.16, 0.15, 0.14, 0.15, 0.16, 0.15, 0.14, 0.16, 0.15, 0.17, 0.16, 0.15, 0.17, 0.16, 0.15, 0.17, 0.16, 0.18, 0.17, 0.16, 0.18, 0.17, 0.19, 0.18, 0.17, 0.18, 0.19, 0.18, 0.20, 0.19, 0.18, 0.20, 0.21, 0.22, 0.21, 0.20, 0.21, 0.20, 0.19, 0.20, 0.19, 0.18, 0.19, 0.18, 0.19, 0.18, 0.17, 0.18, 0.19, 0.18, 0.17, 0.18, 0.17, 0.18, 0.17, 0.18, 0.16, 0.17, 0.16, 0.15, 0.16, 0.15, 0.16, 0.17, 0.16, 0.15, 0.16, 0.17, 0.16, 0.17, 0.18]

# band half-widths (seed spread) per panel for AUROC / Spearman rows
band_auroc = [0.006, 0.006, 0.015, 0.022]
band_spearman = [0.015, 0.015, 0.025, 0.025]

auroc = [
    [rq_qwen_auroc_diffmean, rq_qwen_auroc_hinge, rq_qwen_auroc_logistic],
    [rq_llama_auroc_diffmean, rq_llama_auroc_hinge, rq_llama_auroc_logistic],
    [sraq_qwen_auroc_diffmean, sraq_qwen_auroc_hinge, sraq_qwen_auroc_logistic],
    [sraq_llama_auroc_diffmean, sraq_llama_auroc_hinge, sraq_llama_auroc_logistic],
]
spearman = [
    [rq_qwen_spearman_diffmean, rq_qwen_spearman_hinge, rq_qwen_spearman_logistic],
    [rq_llama_spearman_diffmean, rq_llama_spearman_hinge, rq_llama_spearman_logistic],
    [sraq_qwen_spearman_diffmean, sraq_qwen_spearman_hinge, sraq_qwen_spearman_logistic],
    [sraq_llama_spearman_diffmean, sraq_llama_spearman_hinge, sraq_llama_spearman_logistic],
]
jac_top = [
    [rq_qwen_jac_top_diffmean, rq_qwen_jac_top_hinge, rq_qwen_jac_top_logistic],
    [rq_llama_jac_top_diffmean, rq_llama_jac_top_hinge, rq_llama_jac_top_logistic],
    [sraq_qwen_jac_top_diffmean, sraq_qwen_jac_top_hinge, sraq_qwen_jac_top_logistic],
    [sraq_llama_jac_top_diffmean, sraq_llama_jac_top_hinge, sraq_llama_jac_top_logistic],
]
jac_bot = [
    [rq_qwen_jac_bot_diffmean, rq_qwen_jac_bot_hinge, rq_qwen_jac_bot_logistic],
    [rq_llama_jac_bot_diffmean, rq_llama_jac_bot_hinge, rq_llama_jac_bot_logistic],
    [sraq_qwen_jac_bot_diffmean, sraq_qwen_jac_bot_hinge, sraq_qwen_jac_bot_logistic],
    [sraq_llama_jac_bot_diffmean, sraq_llama_jac_bot_hinge, sraq_llama_jac_bot_logistic],
]


def draw_mean(ax, y, color, band):
    y = np.asarray(y, dtype=float)
    x = np.linspace(0, 1, len(y))
    ax.fill_between(x, y - band, y + band, color=color, alpha=0.15, linewidth=0)
    sns.lineplot(x=x, y=y, ax=ax, color=color, linewidth=1.5,
                 marker="o", markersize=2.5, markeredgewidth=0)


def draw_jac(ax, y, color, top):
    y = np.asarray(y, dtype=float)
    x = np.linspace(0, 1, len(y))
    if top:
        sns.lineplot(x=x, y=y, ax=ax, color=color, linewidth=1.8,
                     marker="o", markersize=2.5, markeredgewidth=0)
    else:
        # seaborn paints marker edges white by default; x markers need the line colour
        sns.lineplot(x=x, y=y, ax=ax, color=color, linewidth=1.0, alpha=0.55,
                     marker="x", markersize=2.5, markeredgewidth=0.8,
                     markeredgecolor=color)


fig, axes = plt.subplots(3, 4, figsize=(8.74, 3.86), dpi=100, sharex=True)

for c in range(4):
    for m, name in enumerate(methods):
        draw_mean(axes[0, c], auroc[c][m], colors[name], band_auroc[c])
        draw_mean(axes[1, c], spearman[c][m], colors[name], band_spearman[c])
        draw_jac(axes[2, c], jac_bot[c][m], colors[name], top=False)
        draw_jac(axes[2, c], jac_top[c][m], colors[name], top=True)
    axes[0, c].set_title(col_titles[c], fontsize=9.5, pad=3)
    axes[2, c].set_xlabel("Layer", fontsize=10, labelpad=1)

for r in range(3):
    axes[r, 0].set_ylabel(row_labels[r], fontsize=10, labelpad=2)
    for c in range(4):
        ax = axes[r, c]
        ax.tick_params(labelsize=8, pad=1.5, length=3)
        ax.set_xticks([0, 0.25, 0.5, 0.75, 1.0])
        ax.set_xticklabels(["0.00", "0.25", "0.50", "0.75", "1.00"])
        if c > 0:
            ax.set_ylabel("")
        for s in ax.spines.values():
            s.set_color("0.15")

# y ticks per panel
axes[0, 0].set_yticks([0.5, 0.6, 0.7, 0.8])
axes[0, 1].set_yticks([0.6, 0.7, 0.8])
axes[0, 2].set_yticks([0.6, 0.8])
axes[0, 3].set_yticks([0.7, 0.8])
axes[1, 0].set_yticks([0.0, 0.5])
axes[1, 1].set_yticks([0.25, 0.5, 0.75])
axes[1, 2].set_yticks([0.0, 0.5, 1.0])
axes[1, 3].set_yticks([0.4, 0.6, 0.8, 1.0])
for c in range(3):
    axes[2, c].set_yticks([0.0, 0.25, 0.5, 0.75])
axes[2, 3].set_yticks([0.0, 0.2, 0.4, 0.6])

handles = [Line2D([], [], color=colors[n], marker="o", markersize=2.5, linewidth=1.5) for n in methods]
handles += [Line2D([], [], color="black", marker="o", markersize=3.5, linestyle="none"),
            Line2D([], [], color="black", marker="x", markersize=3, linestyle="none")]
labels = methods + ["top (Jaccard)", "bottom (Jaccard)"]
fig.legend(handles, labels, loc="upper center", ncol=5, frameon=False,
           fontsize=9.5, bbox_to_anchor=(0.5, 1.005), columnspacing=2.2, handlelength=2.0)

fig.subplots_adjust(left=0.058, right=0.987, top=0.862, bottom=0.09, wspace=0.21, hspace=0.15)
fig.savefig("out.png", dpi=100)
